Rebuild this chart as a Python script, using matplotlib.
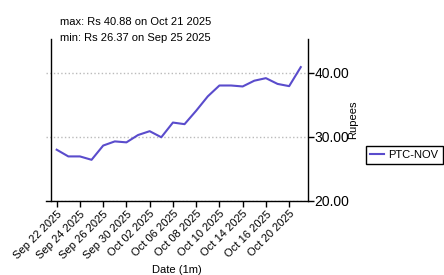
import matplotlib
matplotlib.use("Agg")
import matplotlib.pyplot as plt

plt.rcParams['font.family'] = ['Liberation Sans', 'DejaVu Sans']

# trading days (1 month)
dates = ["Sep 22 2025", "Sep 23 2025", "Sep 24 2025", "Sep 25 2025", "Sep 26 2025",
         "Sep 29 2025", "Sep 30 2025", "Oct 01 2025", "Oct 02 2025", "Oct 03 2025",
         "Oct 06 2025", "Oct 07 2025", "Oct 08 2025", "Oct 09 2025", "Oct 10 2025",
         "Oct 13 2025", "Oct 14 2025", "Oct 15 2025", "Oct 16 2025", "Oct 17 2025",
         "Oct 20 2025", "Oct 21 2025"]
prices = [27.95, 26.90, 26.90, 26.37, 28.60, 29.25, 29.10, 30.25, 30.85, 29.90,
          32.20, 31.95, 34.05, 36.30, 38.00, 38.00, 37.85, 38.75, 39.15, 38.25,
          37.90, 40.88]
yticks = [20, 30, 40]

fig = plt.figure(figsize=(4.44, 2.75), dpi=100)
ax = fig.add_axes([0.1036, 0.2709, 0.5890, 0.5871])

x = list(range(len(prices)))
ax.plot(x, prices, color='#5a4ccc', lw=1.5, label='PTC-NOV')

ax.set_xlim(-0.92, 21.58)
ax.set_ylim(20, 45.27)

ax.set_xticks(x[::2])
ax.set_xticklabels(dates[::2], rotation=45, ha='right', rotation_mode='anchor', fontsize=8)
ax.tick_params(axis='x', length=4, width=1, pad=2)

ax.yaxis.tick_right()
ax.yaxis.set_label_position('right')
ax.set_yticks(yticks)
ax.set_yticklabels([f"{v:.2f}" for v in yticks], fontsize=7.5)
ax.tick_params(axis='y', length=4, width=1, pad=1)
ax.set_ylabel('Rupees', fontsize=8, labelpad=-1)
ax.set_xlabel('Date (1m)', fontsize=8, labelpad=3)

ax.grid(axis='y', linestyle=':', color='#bbbbbb', lw=1)
ax.spines['top'].set_visible(False)
ax.spines['left'].set_position(('axes', 0.021))
for s in ['left', 'right', 'bottom']:
    ax.spines[s].set_linewidth(1)

fig.text(60 / 444, 1 - 25 / 275, "max: Rs 40.88 on Oct 21 2025", fontsize=8, va='baseline')
fig.text(60 / 444, 1 - 41 / 275, "min: Rs 26.37 on Sep 25 2025", fontsize=8, va='baseline')

leg = fig.legend(loc='center left', bbox_to_anchor=(366 / 444, 1 - 155 / 275),
                 fontsize=8, fancybox=False, framealpha=1, edgecolor='black',
                 handlelength=1.2, handletextpad=0.4, borderpad=0.4, borderaxespad=0)
leg.get_frame().set_linewidth(1)

fig.savefig('out.png', dpi=100)
